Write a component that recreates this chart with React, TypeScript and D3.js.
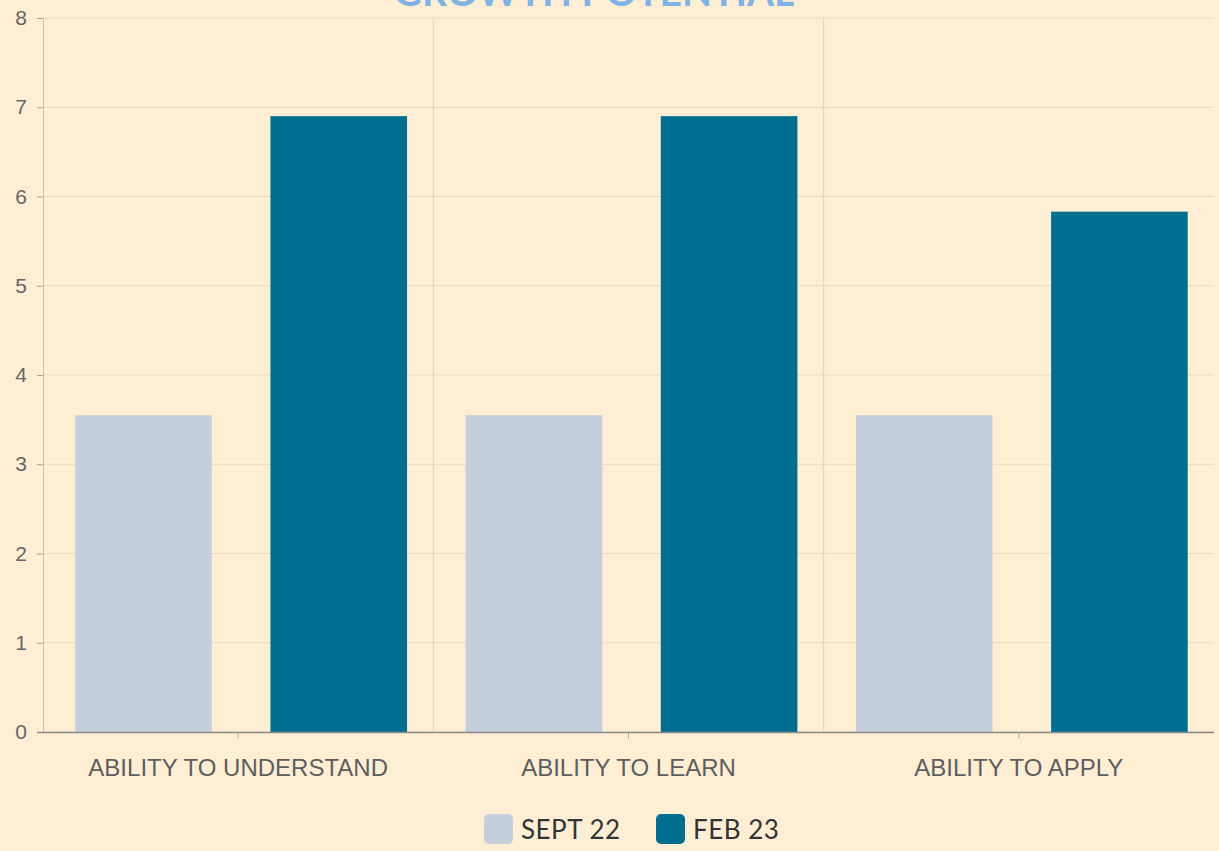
import React, { useEffect, useRef } from "react";
import * as d3 from "d3";

// chart data
const categories = ["ABILITY TO UNDERSTAND", "ABILITY TO LEARN", "ABILITY TO APPLY"];
const seriesNames = ["SEPT 22", "FEB 23"];
const sept22 = [3.55, 3.55, 3.55];
const feb23 = [6.9, 6.9, 5.83];
const yTicks = [0, 1, 2, 3, 4, 5, 6, 7, 8];
const colors = ["#c5cfdc", "#006f8f"];

const App = () => {
  const svgRef = useRef<SVGSVGElement | null>(null);

  useEffect(() => {
    document.body.style.margin = "0";
    const W = 1219;
    const H = 851;
    const margin = { top: 18, right: 5, bottom: 119, left: 43 };
    const width = W - margin.left - margin.right;
    const height = H - margin.top - margin.bottom;

    const root = d3.select(svgRef.current).attr("width", W).attr("height", H);
    root.selectAll("*").remove();

    root.append("rect").attr("width", W).attr("height", H).attr("fill", "#feefd4");

    // title, mostly cut off at the top edge (as in the source)
    root
      .append("text")
      .attr("x", 594)
      .attr("y", 6)
      .attr("text-anchor", "middle")
      .style("font-family", "Lato, 'Open Sans', sans-serif")
      .style("font-weight", "bold")
      .style("font-size", "39px")
      .attr("fill", "#7fb2e5")
      .text("GROWTH POTENTIAL");

    const svg = root.append("g").attr("transform", `translate(${margin.left},${margin.top})`);

    const x0 = d3.scaleBand().domain(categories).range([0, width]);
    const x1 = d3
      .scaleBand()
      .domain(seriesNames)
      .range([3, x0.bandwidth() + 3])
      .paddingInner(0.3)
      .paddingOuter(0.15);
    const y = d3.scaleLinear().domain([0, 8]).range([height, 0]);

    // horizontal grid
    svg
      .selectAll(".hgrid")
      .data(yTicks)
      .enter()
      .append("line")
      .attr("x1", 0)
      .attr("x2", width)
      .attr("y1", (d) => y(d))
      .attr("y2", (d) => y(d))
      .attr("stroke", "#e6d9bd")
      .attr("stroke-width", 1);

    // vertical grid at band boundaries
    svg
      .selectAll(".vgrid")
      .data(categories.slice(1))
      .enter()
      .append("line")
      .attr("x1", (d) => x0(d)!)
      .attr("x2", (d) => x0(d)!)
      .attr("y1", 0)
      .attr("y2", height)
      .attr("stroke", "#e0d3b8")
      .attr("stroke-width", 1);

    // bars
    const values = [sept22, feb23];
    const groups = svg
      .selectAll(".grp")
      .data(categories)
      .enter()
      .append("g")
      .attr("transform", (d) => `translate(${x0(d)},0)`);

    groups
      .selectAll("rect")
      .data((d, i) => seriesNames.map((s, j) => ({ s, v: values[j][i], j })))
      .enter()
      .append("rect")
      .attr("x", (d) => x1(d.s)!)
      .attr("y", (d) => y(d.v))
      .attr("width", x1.bandwidth())
      .attr("height", (d) => height - y(d.v))
      .attr("fill", (d) => colors[d.j]);

    // y axis
    const yAxis = svg
      .append("g")
      .call(d3.axisLeft(y).tickValues(yTicks).tickSize(6).tickSizeOuter(0).tickPadding(10));
    yAxis.select(".domain").attr("stroke", "#c9bfae");
    yAxis.selectAll(".tick line").attr("stroke", "#a9a398");
    yAxis
      .selectAll("text")
      .style("font-family", "'Liberation Sans', Arial, sans-serif")
      .style("font-size", "21px")
      .attr("fill", "#666");

    // x axis
    const xAxis = svg
      .append("g")
      .attr("transform", `translate(0,${height})`)
      .call(d3.axisBottom(x0).tickSize(6).tickSizeOuter(0).tickPadding(21));
    xAxis.select(".domain").attr("stroke", "#8a8a8a").attr("stroke-width", 1.5).attr("d", `M-6,0.5H${width}`);
    xAxis.selectAll(".tick line").attr("stroke", "#a9a398");
    xAxis
      .selectAll("text")
      .style("font-family", "'Liberation Sans', Arial, sans-serif")
      .style("font-size", "24px")
      .attr("fill", "#5e5e5e");

    // legend
    const legendItems = [
      { name: seriesNames[0], x: 484, color: colors[0] },
      { name: seriesNames[1], x: 656, color: colors[1] },
    ];
    const legend = root.append("g");
    legendItems.forEach((it) => {
      legend
        .append("rect")
        .attr("x", it.x)
        .attr("y", 814)
        .attr("width", 29)
        .attr("height", 30)
        .attr("rx", 5)
        .attr("fill", it.color);
      legend
        .append("text")
        .attr("x", it.x + 37)
        .attr("y", 839)
        .style("font-family", "Lato, sans-serif")
        .style("font-size", "26px")
        .style("letter-spacing", "0.5px")
        .attr("fill", "#333")
        .text(it.name);
    });
  }, []);

  return (
    <div>
      <svg ref={svgRef} style={{ display: "block" }}></svg>
    </div>
  );
};

export default App;
